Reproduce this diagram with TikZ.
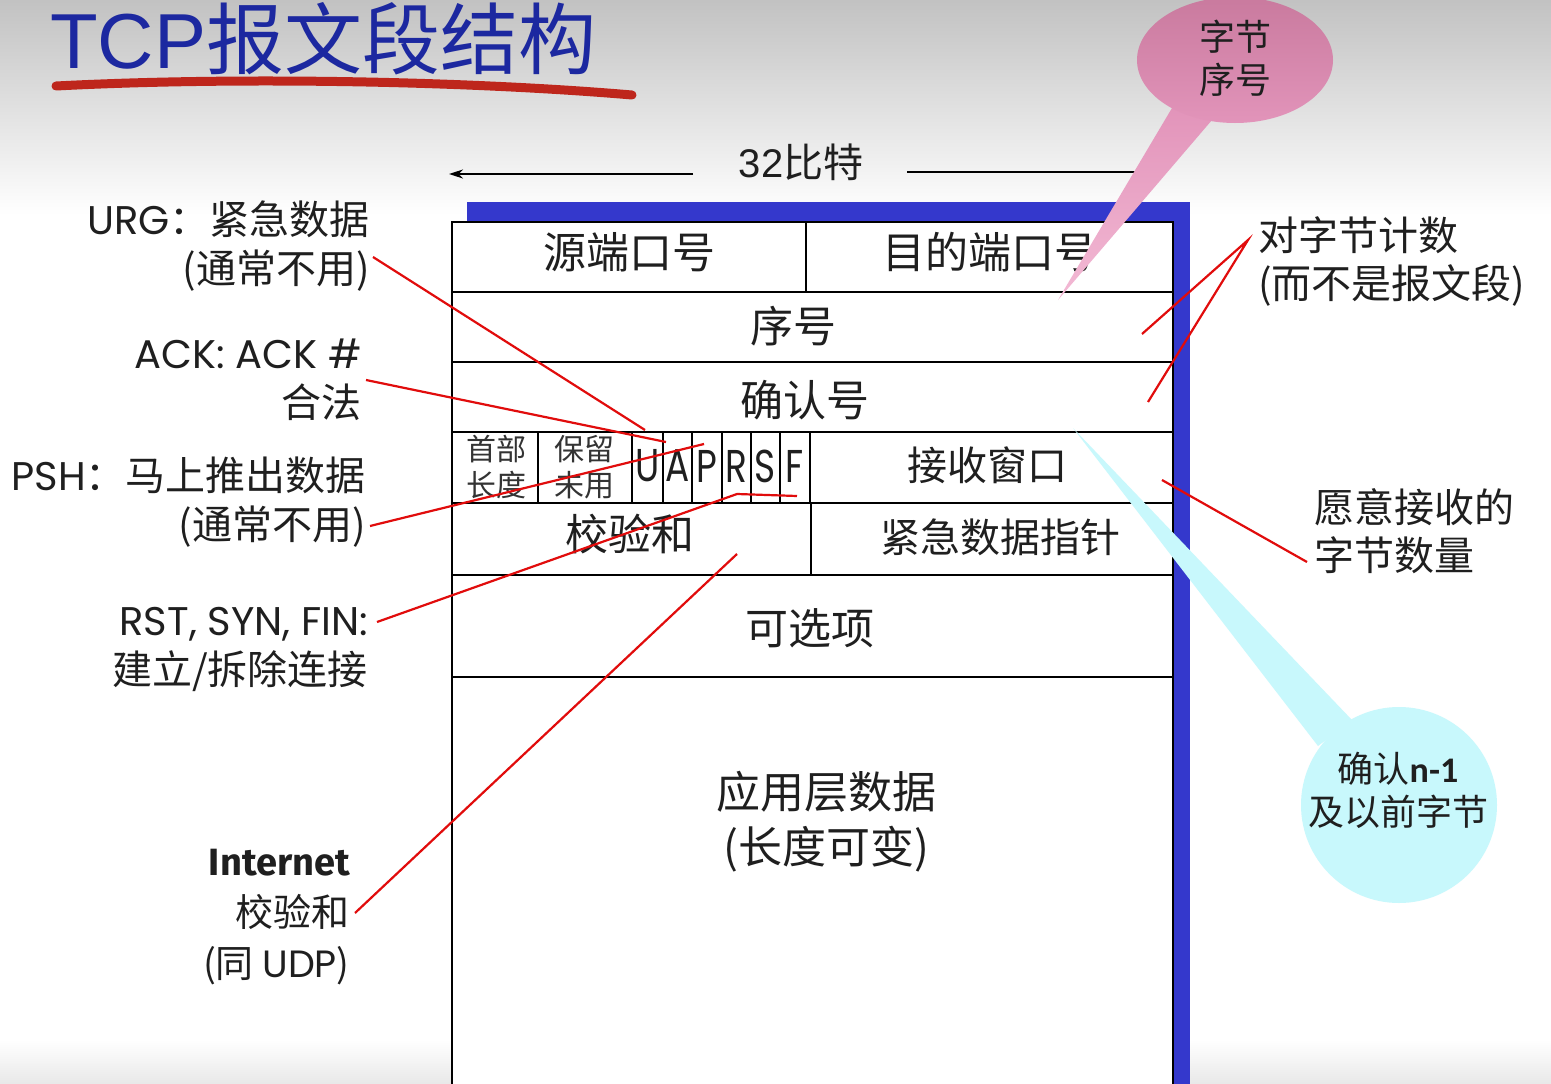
\documentclass[tikz,border=0pt]{standalone}
\usepackage{fontspec}
\setmainfont{Noto Sans CJK SC}
\newfontfamily\geo{Poppins}
\newfontfamily\ari{Liberation Sans}
\newfontfamily\carl{Carlito}
\newfontfamily\fira{Fira Sans}
\usetikzlibrary{arrows.meta,shapes.geometric}
\definecolor{frameblue}{RGB}{52,56,204}
\definecolor{titleblue}{RGB}{28,40,160}
\definecolor{penred}{RGB}{190,38,28}
\definecolor{ptr}{RGB}{225,12,12}
\definecolor{bubpinkA}{RGB}{201,122,158}
\definecolor{bubpinkB}{RGB}{226,148,186}
\definecolor{tailpink}{RGB}{240,168,202}
\definecolor{bubcyan}{RGB}{200,248,252}
\newcommand{\narrow}[1]{\scalebox{0.78}[1]{#1}}
\begin{document}
\begin{tikzpicture}[x=1pt,y=-1pt,
  txt/.style={inner sep=0pt, text=black!88},
  cellf/.style={txt, font=\fontsize{43}{50}\selectfont},
  smallf/.style={txt, font=\fontsize{30}{36}\selectfont, align=center, text=black!80},
  flagf/.style={txt, font=\geo\fontsize{46}{46}\selectfont},
  lbl/.style={txt, font=\fontsize{40}{49}\selectfont, align=right},
  rlbl/.style={txt, font=\fontsize{40}{48}\selectfont, align=left, anchor=west},
  bubf/.style={txt, font=\fontsize{36}{43}\selectfont, align=center},
  grid/.style={line width=2.4pt, black},
  pointer/.style={ptr, line width=2.2pt},
]
\useasboundingbox (0,0) rectangle (1551,1084);

% slide background
\fill[white] (0,0) rectangle (1551,1084);
\shade[top color=black!24, bottom color=white] (0,0) rectangle (1551,215);
\shade[top color=white, bottom color=black!9] (0,1040) rectangle (1551,1084);

% title with hand-drawn underline
\node[anchor=base west, inner sep=0pt, text=titleblue, font=\fontsize{78}{78}\selectfont] (title) at (50,68) {{\ari TCP}报文段结构};
\draw[penred, line width=9pt, line cap=round] (56,86) .. controls (250,76) and (480,82) .. (632,95);

% width indicator
\node[txt, font=\fontsize{40}{40}\selectfont] (bits) at (801,162) {{\ari 32}比特};
\coordinate (arrLs) at (693,174);
\coordinate (arrL) at (449,174);
\coordinate (arrRs) at (907,172);
\coordinate (arrR) at (1140,172);
\draw[line width=2pt, -{Stealth[length=14pt,width=9pt]}] (arrLs) -- (arrL);
\draw[line width=2pt] (arrRs) -- (arrR);

% blue shadow frame and header table
\fill[frameblue] (467,202) rectangle (1190,1084);
\fill[white] (452,222) rectangle (1173,1084);
\draw[grid] (452,1084) -- (452,222) -- (1173,222) -- (1173,1084);
\foreach \yy in {292,362,432,503,575,677}
  \draw[grid] (452,\yy) -- (1173,\yy);
\draw[grid] (806,222) -- (806,292);
\foreach \xx in {538,632,663,692,722,751,780,810}
  \draw[grid] (\xx,432) -- (\xx,503);
\draw[grid] (811,503) -- (811,575);

% field names
\node[cellf] (src) at (629,252) {源端口号};
\node[cellf] (dst) at (990,252) {目的端口号};
\node[cellf] (seq) at (793,326) {序号};
\node[cellf] (ackn) at (805,400) {确认号};
\node[smallf] (hlen) at (496,467) {首部\\长度};
\node[smallf] (resv) at (584,467) {保留\\未用};
\node[flagf] (fU) at (647.5,466) {\narrow{U}};
\node[flagf] (fA) at (677.5,466) {\narrow{A}};
\node[flagf] (fP) at (707,466) {\narrow{P}};
\node[flagf] (fR) at (736.5,466) {\narrow{R}};
\node[flagf] (fS) at (765.5,466) {\narrow{S}};
\node[flagf] (fF) at (795,466) {\narrow{F}};
\node[cellf, font=\fontsize{40}{48}\selectfont] (rwin) at (987,465) {接收窗口};
\node[cellf] (csum) at (630,534) {校验和};
\node[cellf, font=\fontsize{40}{48}\selectfont] (urgp) at (1000,537) {紧急数据指针};
\node[cellf] (opts) at (810,628) {可选项};
\node[cellf, align=center, font=\fontsize{44}{55}\selectfont] (data) at (826,822) {应用层数据\\(长度可变)};

% explanations on the left
\node[lbl, anchor=east] (urg) at (370,246) {{\geo URG}：紧急数据\\(通常不用)};
\node[lbl, anchor=east] (ackl) at (362,380) {{\geo ACK: ACK \#}\\合法};
\node[lbl, anchor=east] (psh) at (366,502) {{\geo PSH}：马上推出数据\\(通常不用)};
\node[lbl, anchor=east] (rst) at (368,649) {{\geo RST, SYN, FIN:}\\建立/拆除连接};
\node[lbl, anchor=east, font=\fontsize{38}{51}\selectfont] (inet) at (350,917) {{\fira\bfseries Internet}\\校验和\\(同 {\geo UDP})};

% explanations on the right
\node[rlbl] (cnt) at (1258,261) {对字节计数\\(而不是报文段)};
\node[rlbl] (will) at (1314,531) {愿意接收的\\字节数量};

% red pointers
\coordinate (urgA) at (373,257);  \coordinate (urgB) at (645,430);
\coordinate (ackA) at (366,380);  \coordinate (ackB) at (666,442);
\coordinate (pshA) at (370,526);  \coordinate (pshB) at (704,444);
\coordinate (rstA) at (377,622);  \coordinate (rstB) at (737,494); \coordinate (rstC) at (797,496);
\coordinate (inA) at (355,913);   \coordinate (inB) at (737,554);
\coordinate (cntA) at (1248,240); \coordinate (cntB) at (1142,334); \coordinate (cntC) at (1148,402);
\coordinate (wA) at (1307,562);   \coordinate (wB) at (1162,480);
\draw[pointer] (urgA) -- (urgB);
\draw[pointer] (ackA) -- (ackB);
\draw[pointer] (pshA) -- (pshB);
\draw[pointer] (rstA) -- (rstB) -- (rstC);
\draw[pointer] (inA) -- (inB);
\draw[pointer] (cntB) -- (cntA) -- (cntC);
\draw[pointer] (wA) -- (wB);

% pink callout: byte sequence numbers
\coordinate (pkTip) at (1058,300);
\coordinate (pkL) at (1172,108);
\coordinate (pkR) at (1212,120);
\shade[top color=bubpinkB, bottom color=tailpink!80] (pkL) -- (pkR) -- (pkTip) -- cycle;
\node[ellipse, minimum width=196pt, minimum height=126pt, inner sep=0pt,
      top color=bubpinkA, bottom color=bubpinkB] (pinkbub) at (1235,60) {};
\node[bubf] (pinktext) at (1235,58) {字节\\序号};

% cyan callout: cumulative acknowledgement
\coordinate (cyTip) at (1073,428);
\coordinate (cyL) at (1318,746);
\coordinate (cyR) at (1352,720);
\fill[bubcyan] (cyTip) -- (cyL) -- (cyR) -- cycle;
\node[circle, minimum size=196pt, inner sep=0pt, fill=bubcyan] (cybub) at (1399,805) {};
\node[bubf] (cytext) at (1398,790) {确认{\carl\bfseries n-1}\\及以前字节};
\end{tikzpicture}
\end{document}
